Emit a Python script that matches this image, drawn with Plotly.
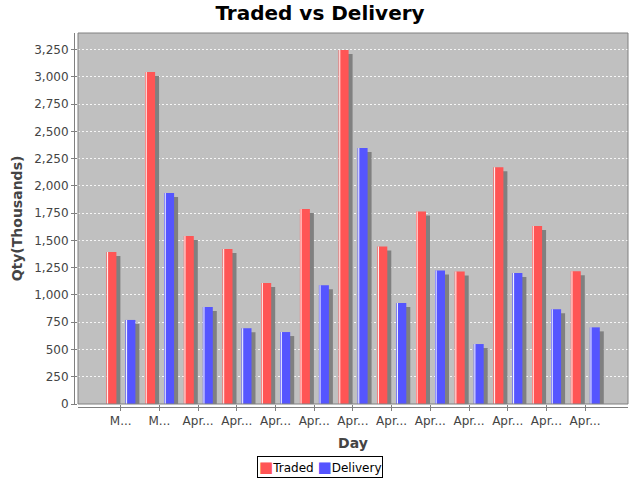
import plotly.graph_objects as go

# Data (quantities in thousands)
days = ["M...", "M...", "Apr...", "Apr...", "Apr...", "Apr...", "Apr...",
        "Apr...", "Apr...", "Apr...", "Apr...", "Apr...", "Apr..."]
traded = [1394, 3046, 1541, 1422, 1110, 1789, 3248, 1445, 1765, 1215, 2172, 1633, 1218]
delivery = [771, 1936, 890, 695, 660, 1090, 2349, 927, 1225, 550, 1202, 870, 703]

y_ticks = list(range(0, 3251, 250))

W, H = 640, 480

# Layout constants (pixels)
PLOT_L, PLOT_R, PLOT_T, PLOT_B = 78, 628, 33, 404
PITCH = 38.7          # category spacing in px
BAR_W = 10            # bar width in px
SHADOW = 4            # shadow offset in px
Y_MAX = 3403

plot_w = PLOT_R - PLOT_L
plot_h = PLOT_B - PLOT_T
first_center = 42.7
x_lo = -first_center / PITCH
x_hi = x_lo + plot_w / PITCH
px_y = Y_MAX / plot_h  # data units per px on y

RED = "#FF5555"
BLUE = "#5555FF"
SHADOW_COLOR = "#808080"
FONT = "DejaVu Sans"

xs = list(range(len(days)))
w = BAR_W / PITCH

fig = go.Figure()

series = [("Traded", traded, RED, -14.3), ("Delivery", delivery, BLUE, 4.7)]

# shadows first, so they sit behind the bars
for name, vals, color, off in series:
    fig.add_trace(go.Bar(
        x=xs, y=vals, base=-SHADOW * px_y,
        width=w, offset=(off + SHADOW) / PITCH,
        marker=dict(color=SHADOW_COLOR, line=dict(width=0)),
        showlegend=False, hoverinfo="skip"))

for name, vals, color, off in series:
    fig.add_trace(go.Bar(
        x=xs, y=vals, name=name,
        width=w, offset=off / PITCH,
        marker=dict(color=color, line=dict(width=0)), showlegend=False))
    # thin white highlight on the left edge of each bar
    fig.add_trace(go.Bar(
        x=xs, y=vals, width=1.1 / PITCH, offset=(off + 0.6) / PITCH,
        marker=dict(color="rgba(255,255,255,0.9)", line=dict(width=0)),
        showlegend=False, hoverinfo="skip"))

# offset axis lines (JFreeChart style) and plot border
fig.add_shape(type="rect", xref="x domain", yref="y domain", x0=0, x1=1, y0=0, y1=1,
              line=dict(color="#808080", width=1), layer="above")
fig.add_shape(type="line", xref="x domain", yref="y domain",
              x0=-3.5 / plot_w, x1=-3.5 / plot_w, y0=0, y1=1,
              line=dict(color="#808080", width=1))
fig.add_shape(type="line", xref="x domain", yref="y domain",
              x0=0, x1=1, y0=-3.5 / plot_h, y1=-3.5 / plot_h,
              line=dict(color="#808080", width=1))

# compact legend box like the reference
legend_text = (f"<span style='color:{RED};font-size:15px'>■</span>{series[0][0]} "
               f"<span style='color:{BLUE};font-size:15px'>■</span>{series[1][0]}")
fig.add_annotation(text=legend_text, xref="paper", yref="paper",
                   x=(320 - PLOT_L) / plot_w, xanchor="center",
                   y=-(467 - PLOT_B) / plot_h, yanchor="middle",
                   showarrow=False, bordercolor="black", borderwidth=1,
                   borderpad=1, bgcolor="white",
                   font=dict(family=FONT, size=12, color="black"))

fig.update_layout(
    width=W, height=H,
    margin=dict(l=PLOT_L, r=W - PLOT_R, t=PLOT_T, b=H - PLOT_B, autoexpand=False),
    barmode="overlay",
    paper_bgcolor="white",
    plot_bgcolor="#C0C0C0",
    font=dict(family=FONT, size=12, color="#444444"),
    title=dict(text="<b>Traded vs Delivery</b>", x=0.5, xanchor="center",
               y=1 - 13 / H, yanchor="middle", yref="container",
               font=dict(family=FONT, size=20, color="black")),
    showlegend=False,
)

fig.update_xaxes(
    range=[x_lo, x_hi], tickmode="array", tickvals=xs, ticktext=days,
    showgrid=False, zeroline=False, showline=False, automargin=False,
    ticks="outside", ticklen=6, tickcolor="#808080",
    tickfont=dict(size=12, color="#444444"),
    title=dict(text="<b>Day</b>", font=dict(size=14, color="#444444"), standoff=10),
)
fig.update_yaxes(
    range=[0, Y_MAX], tickmode="array", tickvals=y_ticks,
    tickformat=",d", showgrid=True, gridcolor="rgba(255,255,255,0.85)",
    griddash="2px,2px", gridwidth=1,
    zeroline=False, showline=False, automargin=False,
    ticks="outside", ticklen=6, tickcolor="#808080",
    tickfont=dict(size=12, color="#444444"),
    title=dict(text="<b>Qty(Thousands)</b>", font=dict(size=14, color="#444444"), standoff=8),
)

# drop the default page margin so the figure sits at the window corner
fig.write_html("out.html", config={"displayModeBar": False},
               post_script="document.body.style.margin='0';")
